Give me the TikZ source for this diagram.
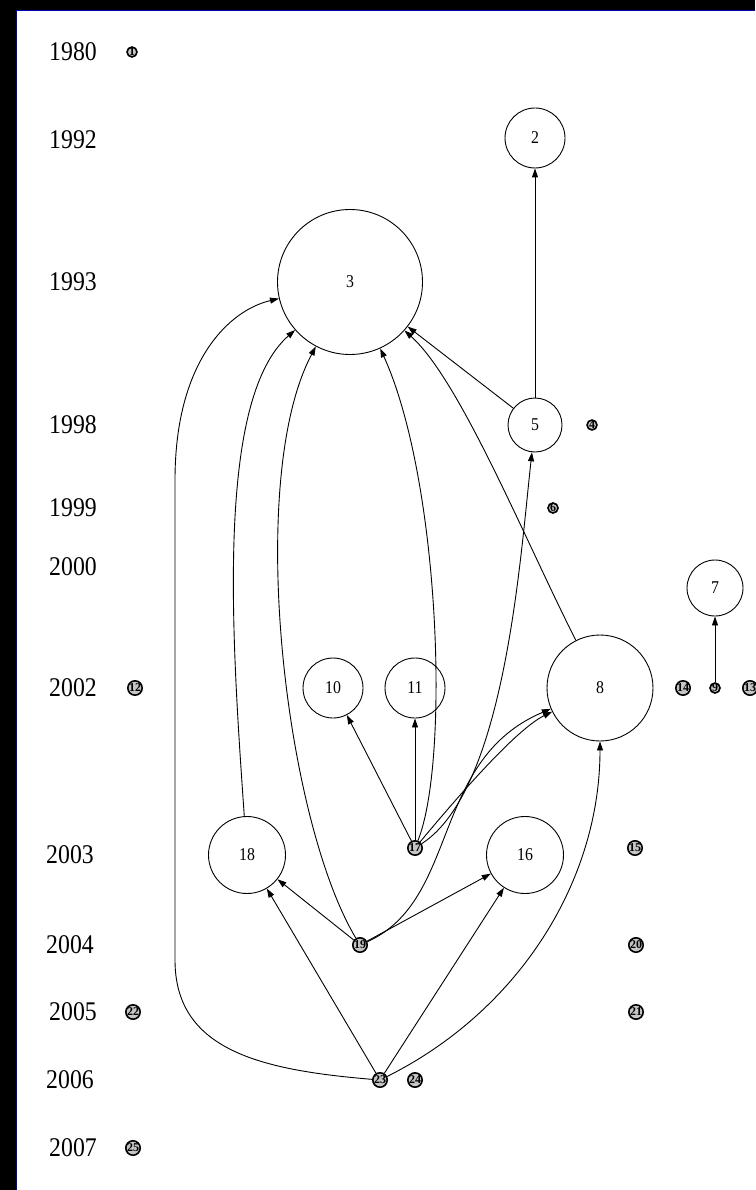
\documentclass[tikz,border=0pt]{standalone}
\usepackage{fontspec}
\setmainfont{Liberation Serif}
\newfontfamily\yrfont[FakeStretch=0.88]{Liberation Serif}
\usetikzlibrary{arrows.meta}
\begin{document}
\begin{tikzpicture}[x=1pt,y=-1pt,
  year/.style={font=\yrfont\fontsize{27}{27}\selectfont, inner sep=0pt},
  big/.style={circle, draw, line width=0.9pt, inner sep=0pt, font=\yrfont\fontsize{18}{18}\selectfont},
  tiny/.style={circle, draw, line width=1.6pt, fill=gray!45, minimum size=9pt, inner sep=0pt, font=\bfseries\fontsize{12}{12}\selectfont},
  edge/.style={line width=0.9pt, -{Triangle[length=9pt,width=6pt]}}]
\useasboundingbox (0,0) rectangle (755,1190);
\fill[white] (0,0) rectangle (755,1190);
\fill[black] (0,0) rectangle (755,10);
\fill[black] (0,0) rectangle (16,1190);
\draw[blue!70!black, line width=0.6pt] (16.3,1190) -- (16.3,10.3) -- (755,10.3);
% year labels
\node[year] (y1980) at (73,52) {1980};
\node[year] (y1992) at (73,140) {1992};
\node[year] (y1993) at (73,282) {1993};
\node[year] (y1998) at (73,425) {1998};
\node[year] (y1999) at (73,508) {1999};
\node[year] (y2000) at (73,567) {2000};
\node[year] (y2002) at (73,688) {2002};
\node[year] (y2003) at (70,855) {2003};
\node[year] (y2004) at (70,945) {2004};
\node[year] (y2005) at (73,1012) {2005};
\node[year] (y2006) at (70,1080) {2006};
\node[year] (y2007) at (73,1148) {2007};
% big nodes
\node[big, minimum size=60pt] (n2) at (535,138) {2};
\node[big, minimum size=145pt] (n3) at (350,282) {3};
\node[big, minimum size=54pt] (n5) at (535,425) {5};
\node[big, minimum size=56pt] (n7) at (715,588) {7};
\node[big, minimum size=106pt] (n8) at (600,688) {8};
\node[big, minimum size=60pt] (n10) at (333,688) {10};
\node[big, minimum size=60pt] (n11) at (415,688) {11};
\node[big, minimum size=77pt] (n18) at (247,855) {18};
\node[big, minimum size=77pt] (n16) at (525,855) {16};
% small nodes
\node[tiny] (n1) at (132,52) {1};
\node[tiny] (n4) at (592,425) {4};
\node[tiny] (n6) at (553,508) {6};
\node[tiny] (n12) at (135,688) {12};
\node[tiny] (n14) at (683,688) {14};
\node[tiny] (n9) at (715,688) {9};
\node[tiny] (n13) at (750,688) {13};
\node[tiny] (n17) at (415,848) {17};
\node[tiny] (n15) at (635,848) {15};
\node[tiny] (n19) at (360,945) {19};
\node[tiny] (n20) at (636,945) {20};
\node[tiny] (n22) at (133,1012) {22};
\node[tiny] (n21) at (636,1012) {21};
\node[tiny] (n23) at (380,1080) {23};
\node[tiny] (n24) at (415,1080) {24};
\node[tiny] (n25) at (133,1148) {25};
% edges
\draw[edge] (n5) -- (n2);
\draw[edge] (n5) -- (n3);
\draw[edge] (n8) .. controls (525,540) and (460,380) .. (n3);
\draw[edge] (n9) -- (n7);
\draw[edge] (n17) -- (n10);
\draw[edge] (n17) -- (n11);
\draw[edge] (n17) .. controls (450,760) and (440,480) .. (n3);
\draw[edge] (n17) .. controls (505,790) and (520,560) .. (n5);
\draw[edge] (n17) .. controls (455,800) and (515,730) .. (n8);
\draw[edge] (n18) .. controls (232,640) and (215,400) .. (n3);
\draw[edge] (n19) -- (n18);
\draw[edge] (n19) -- (n16);
\draw[edge] (n19) .. controls (285,820) and (245,480) .. (n3);
\draw[edge] (n19) .. controls (460,900) and (430,760) .. (n8);
\draw[edge] (n23) -- (n18);
\draw[edge] (n23) -- (n16);
\draw[edge] (n23) .. controls (520,1010) and (600,880) .. (n8);
\draw[edge] (n23) .. controls (260,1070) and (175,1050) .. (175,960)
  -- (175,480) .. controls (175,360) and (230,310) .. (n3);
\end{tikzpicture}
\end{document}
